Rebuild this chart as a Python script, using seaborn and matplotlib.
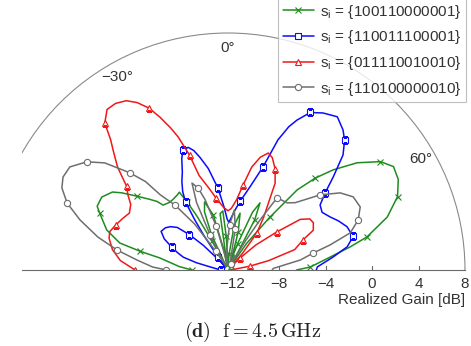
import numpy as np
import matplotlib
matplotlib.use("Agg")
import matplotlib.pyplot as plt
import seaborn as sns
from matplotlib.patches import Rectangle

sns.set_style("white")
plt.rcParams['font.family'] = ['Liberation Sans', 'DejaVu Sans']

# ---------------- data (theta in degrees, realized gain in dB) ----------------
series_labels = [r"s$_{\mathregular{i}}$ = {100110000001}",
                 r"s$_{\mathregular{i}}$ = {110011100001}",
                 r"s$_{\mathregular{i}}$ = {011110010010}",
                 r"s$_{\mathregular{i}}$ = {110100000010}"]

green_theta = [-90, -86, -80, -78, -76, -71.7, -66, -64, -60, -56, -54, -51, -48, -46, -45,
               -41, -38, -34, -32, -31, -30, -29, -27, -25, -22, -19, -15, -12, -10, -8,
               -5, -3, 0, 4, 8, 12, 15, 18, 20, 23, 25.5, 28, 31, 33, 35,
               38.4, 40.8, 43.5, 46.4, 50.3, 54.6, 58, 62, 66.6, 71.6, 76.6, 79.3, 82.7, 87.9, 90]
green_gain = [-9.3, -8.2, -6.45, -4.7, -2.8, -1.4, -0.3, 0.13, 0.15, -0.4, -1.1, -2.3, -3.3, -3.9, -4.5,
              -4.7, -4.7, -4.6, -4.5, -5.6, -7.0, -9.5, -12.0, -9.0, -7.0, -6.2, -7.5, -10.5, -12.0, -7.5,
              -7.3, -9.5, -12.0, -11.0, -8.5, -7.4, -9.0, -11.5, -10.0, -7.0, -6.0, -7.5, -11.5, -12.0, -9.6,
              -6.6, -3.3, -1.5, 0.1, 2.05, 3.7, 4.4, 4.2, 3.5, 2.05, -0.1, -1.7, -3.5, -5.3, -6.5]

blue_theta = [-90, -85, -80, -77, -74, -71, -68, -64, -60, -56, -53, -50, -47.5, -45, -42.5,
              -40, -37.5, -35, -33.5, -32, -30, -27.5, -25, -22.5, -20.5, -18, -16, -14, -11, -7,
              -3.5, -1, 1, 4, 6.7, 10, 14.8, 18.8, 21, 23, 24.7, 27.6, 31.2, 35.5, 39.4,
              42, 45, 48.5, 51.5, 54.8, 58.5, 62.5, 66, 70, 75, 79, 83, 88, 90]
blue_gain = [-11.8, -11.5, -10.8, -9.6, -8.4, -7.8, -7.2, -6.3, -5.75, -5.9, -6.2, -6.7, -7.9, -9.4, -11.2,
             -12.0, -11.0, -8.8, -7.2, -5.5, -4.6, -3.8, -3.1, -2.0, -1.35, -1.3, -1.7, -2.4, -3.5, -5.3,
             -7.0, -8.0, -8.3, -7.8, -7.2, -6.4, -5.0, -3.0, -0.4, 1.0, 1.8, 2.9, 3.4, 3.8, 3.2,
             2.6, 1.6, -0.3, -1.7, -2.7, -2.9, -2.5, -2.0, -1.5, -1.25, -1.95, -3.3, -4.7, -4.8]

red_theta = [-90, -85, -80, -75, -72, -68, -64, -60, -56, -53, -50.5, -47, -44, -42, -40,
             -37, -34, -31, -28.5, -26, -24, -22, -20.5, -18.5, -17, -13, -9.5, -4, 0, 3,
             7, 10, 13, 16, 19, 21.5, 25, 28.5, 31, 34, 38, 41, 43, 45, 48,
             52, 55, 58, 61, 65, 68, 73, 77, 80, 83, 87, 90]
red_gain = [-4.4, -3.1, -2.3, -1.8, -1.7, -2.0, -2.3, -2.6, -2.3, -1.6, -1.1, 0.6, 1.8, 2.7, 4.1,
            4.9, 4.9, 4.6, 4.0, 3.1, 2.0, 0.8, -0.2, -2.0, -3.9, -5.2, -6.1, -7.0, -7.3, -7.1,
            -6.3, -5.0, -3.3, -2.3, -1.75, -2.0, -2.8, -3.9, -5.6, -6.9, -8.4, -10.5, -12.0, -11.0, -9.2,
            -7.1, -4.8, -4.1, -4.0, -4.3, -5.4, -6.4, -8.8, -10.5, -11.8, -12.2, -12.3]

gray_theta = [-90, -87.7, -83.7, -79.8, -75.8, -71.3, -67.4, -63.7, -60.6, -56.9, -52.5, -49, -45.3, -43, -42,
              -39.2, -36, -33, -30, -27, -25, -22.5, -20, -18, -15, -12, -8, -3, 2, 6,
              10, 14, 19, 24, 28, 31, 32.6, 34.2, 38, 41.4, 45, 50.8, 55.5, 59.7, 64.5,
              69, 73.1, 76.2, 78.7, 82.1, 88, 90]
gray_gain = [-7.1, -5.9, -4.5, -2.7, -0.85, 1.05, 2.6, 3.55, 3.9, 3.85, 2.9, 1.65, -0.5, -2.0, -3.7,
             -5.2, -7.5, -10.5, -12.0, -9.0, -6.0, -4.3, -4.9, -6.05, -8.5, -11.0, -12.0, -10.5, -8.5, -7.2,
             -8.8, -11.5, -12.0, -11.0, -11.8, -9.5, -7.3, -4.9, -4.8, -4.7, -4.2, -2.17, -0.68, 0.08, 0.21,
             -0.4, -1.4, -3.35, -4.9, -6.1, -8.5, -8.6]

r_ticks = [-12, -8, -4, 0, 4, 8]
theta_ticks = [-30, 0, 60]
r_min, r_max = -12.4, 8

# ---------------- figure ----------------
W, H = 471, 346
fig = plt.figure(figsize=(W / 100, H / 100), dpi=100)
cx, cy, R = 228, 270, 237
# polar axes box is square; a half-disc sits with its centre at 1/4 of the box height
side = 2 * R
ax = fig.add_axes([(cx - R) / W, ((H - cy) - side / 4) / H, side / W, side / H], projection='polar')
ax.set_theta_zero_location('N')
ax.set_theta_direction(-1)
ax.set_thetamin(-90)
ax.set_thetamax(90)
ax.set_ylim(r_min, r_max)
ax.grid(False)
ax.set_xticks([])
ax.set_yticks([])
ax.patch.set_alpha(0)
ax.spines['polar'].set_color('#8a8a8a')
ax.spines['polar'].set_linewidth(0.8)
for s in ('start', 'end'):
    ax.spines[s].set_color('#6a6a6a')
    ax.spines[s].set_linewidth(0.8)
ax.spines['inner'].set_visible(False)

styles = [
    (green_theta, green_gain, '#1e8c1e', 'x'),
    (blue_theta, blue_gain, '#0a0aff', 's'),
    (red_theta, red_gain, '#f01818', '^'),
    (gray_theta, gray_gain, '#6e6e6e', 'o'),
]
handles = []
for th, g, col, mk in styles:
    sns.lineplot(x=np.deg2rad(th), y=g, ax=ax, sort=False, color=col, linewidth=1.1,
                 marker=mk, markersize=4.5, markerfacecolor='white', markeredgecolor=col,
                 markeredgewidth=0.8, markevery=0.085, legend=False)
    handles.append(ax.lines[-1])
ax.set_xlabel('')
ax.set_ylabel('')

# radial tick marks and labels along the right baseline
ax.plot([np.pi / 2] * len(r_ticks), r_ticks, linestyle='none', marker=2, markersize=3,
        color='#6a6a6a', markeredgewidth=0.8)
for v in r_ticks:
    ax.annotate(str(v).replace('-', '\u2212'), xy=(np.pi / 2, v), xytext=(0, -5),
                textcoords='offset points', ha='center', va='top', fontsize=11, color='#333333')

for a in theta_ticks:
    ax.text(np.deg2rad(a), 6.75, (str(a) + '\u00b0').replace('-', '\u2212'), ha='center', va='center',
            fontsize=11, color='#333333')

fig.text(465 / W, 1 - 300 / H, 'Realized Gain [dB]', ha='right', va='center', fontsize=11, color='#333333')

leg = fig.legend(handles, series_labels, loc='upper right', bbox_to_anchor=(466 / W, 1.0 + 2 / H),
                 bbox_transform=fig.transFigure, frameon=True, fancybox=False, edgecolor='#b0b0b0',
                 fontsize=11, handlelength=2.0, handletextpad=0.4, labelspacing=0.5, borderpad=0.3,
                 borderaxespad=0)
leg.get_frame().set_linewidth(0.8)
for t in leg.get_texts():
    t.set_color('#333333')

# left strip of the original figure is blank
fig.add_artist(Rectangle((0, 0), 22 / W, 1, transform=fig.transFigure, facecolor='white',
                         edgecolor='none', zorder=20))

fig.text(253 / W, 1 - 332 / H, r"$\mathbf{(d)}\ \ \mathrm{f} = 4.5\,\mathrm{GHz}$",
         math_fontfamily='cm', fontsize=14.5, ha='center', va='center', color='#222222')

fig.savefig('out.png', dpi=100)
